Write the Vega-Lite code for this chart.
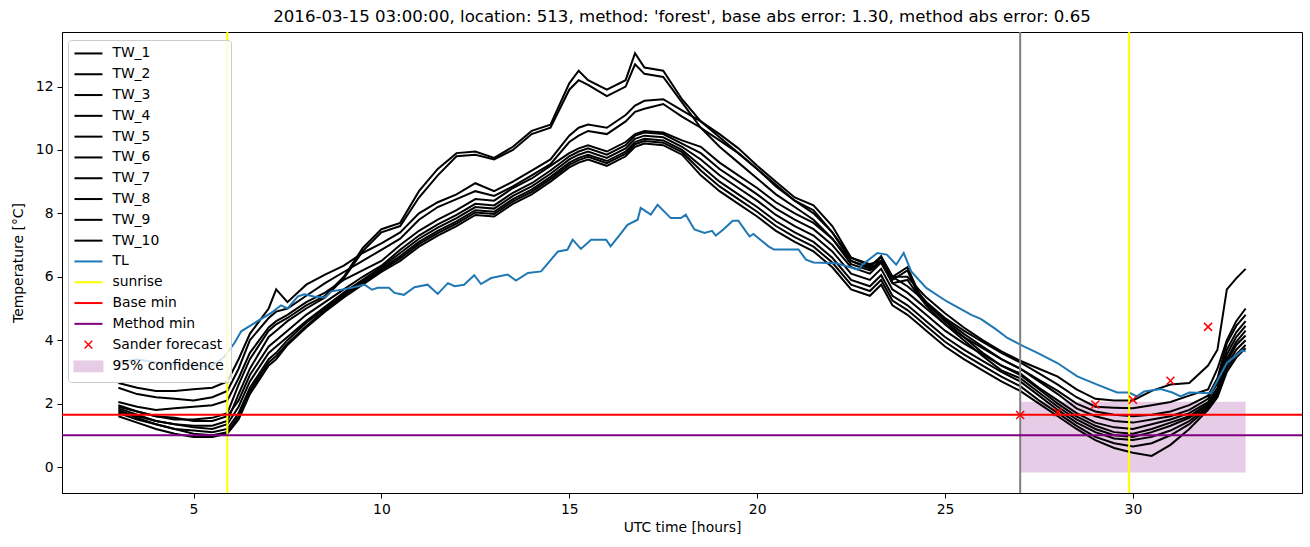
{
  "$schema": "https://vega.github.io/schema/vega-lite/v6.json",
  "width": 1240,
  "height": 461,
  "autosize": {"type": "none"},
  "padding": {"left": 62, "top": 32, "right": 8, "bottom": 54},
  "background": "white",
  "title": {"text": "2016-03-15 03:00:00, location: 513, method: 'forest', base abs error: 1.30, method abs error: 0.65", "fontSize": 16.6, "fontWeight": "normal", "font": "DejaVu Sans", "color": "black", "offset": 5, "anchor": "middle"},
  "config": {
    "font": "DejaVu Sans",
    "view": {"stroke": "black", "strokeWidth": 1},
    "axis": {"grid": false, "domainColor": "black", "tickColor": "black", "labelColor": "black", "titleColor": "black", "labelFontSize": 13.9, "titleFontSize": 13.9, "titleFontWeight": "normal", "tickSize": 5, "labelPadding": 4},
    "axisX": {"titlePadding": 5},
    "axisY": {"titlePadding": 10}
  },
  "datasets": {
    "tw": [
      {"t":3,"TW_1":1.9,"TW_2":1.75,"TW_3":2.65,"TW_4":2.5,"TW_5":2.05,"TW_6":1.95,"TW_7":1.85,"TW_8":1.7,"TW_9":1.6,"TW_10":1.8},
      {"t":3.5,"TW_1":1.75,"TW_2":1.6,"TW_3":2.5,"TW_4":2.3,"TW_5":1.9,"TW_6":1.75,"TW_7":1.65,"TW_8":1.5,"TW_9":1.4,"TW_10":1.55},
      {"t":4,"TW_1":1.6,"TW_2":1.45,"TW_3":2.4,"TW_4":2.2,"TW_5":1.8,"TW_6":1.6,"TW_7":1.45,"TW_8":1.35,"TW_9":1.2,"TW_10":1.35},
      {"t":4.5,"TW_1":1.5,"TW_2":1.35,"TW_3":2.4,"TW_4":2.15,"TW_5":1.85,"TW_6":1.55,"TW_7":1.35,"TW_8":1.2,"TW_9":1.05,"TW_10":1.2},
      {"t":5,"TW_1":1.5,"TW_2":1.3,"TW_3":2.45,"TW_4":2.1,"TW_5":1.9,"TW_6":1.45,"TW_7":1.25,"TW_8":1.15,"TW_9":0.95,"TW_10":1.05},
      {"t":5.5,"TW_1":1.55,"TW_2":1.3,"TW_3":2.5,"TW_4":2.2,"TW_5":1.95,"TW_6":1.45,"TW_7":1.2,"TW_8":1.1,"TW_9":0.95,"TW_10":1.0},
      {"t":5.9,"TW_1":1.7,"TW_2":1.45,"TW_3":2.7,"TW_4":2.4,"TW_5":2.1,"TW_6":1.6,"TW_7":1.35,"TW_8":1.2,"TW_9":1.05,"TW_10":1.1},
      {"t":6.2,"TW_1":2.6,"TW_2":2.3,"TW_3":3.4,"TW_4":3.1,"TW_5":2.8,"TW_6":2.1,"TW_7":1.9,"TW_8":1.7,"TW_9":1.5,"TW_10":1.6},
      {"t":6.5,"TW_1":3.4,"TW_2":3.1,"TW_3":4.2,"TW_4":4.0,"TW_5":3.6,"TW_6":2.9,"TW_7":2.7,"TW_8":2.5,"TW_9":2.3,"TW_10":2.4},
      {"t":7,"TW_1":4.3,"TW_2":4.1,"TW_3":5.0,"TW_4":4.7,"TW_5":4.4,"TW_6":3.8,"TW_7":3.6,"TW_8":3.4,"TW_9":3.2,"TW_10":3.3},
      {"t":7.2,"TW_1":4.5,"TW_2":4.3,"TW_3":5.6,"TW_4":4.9,"TW_5":4.6,"TW_6":4.0,"TW_7":3.8,"TW_8":3.6,"TW_9":3.4,"TW_10":3.5},
      {"t":7.5,"TW_1":4.7,"TW_2":4.6,"TW_3":5.2,"TW_4":5.0,"TW_5":4.8,"TW_6":4.3,"TW_7":4.1,"TW_8":4.0,"TW_9":3.85,"TW_10":3.9},
      {"t":8,"TW_1":5.1,"TW_2":5.0,"TW_3":5.75,"TW_4":5.4,"TW_5":5.2,"TW_6":4.8,"TW_7":4.6,"TW_8":4.55,"TW_9":4.4,"TW_10":4.45},
      {"t":8.5,"TW_1":5.4,"TW_2":5.35,"TW_3":6.07,"TW_4":5.8,"TW_5":5.5,"TW_6":5.2,"TW_7":5.05,"TW_8":5.0,"TW_9":4.9,"TW_10":4.95},
      {"t":9,"TW_1":6.0,"TW_2":5.95,"TW_3":6.35,"TW_4":6.15,"TW_5":5.9,"TW_6":5.6,"TW_7":5.5,"TW_8":5.45,"TW_9":5.35,"TW_10":5.4},
      {"t":9.5,"TW_1":6.9,"TW_2":6.8,"TW_3":6.75,"TW_4":6.5,"TW_5":6.2,"TW_6":6.0,"TW_7":5.9,"TW_8":5.85,"TW_9":5.75,"TW_10":5.8},
      {"t":10,"TW_1":7.5,"TW_2":7.4,"TW_3":7.05,"TW_4":6.85,"TW_5":6.5,"TW_6":6.35,"TW_7":6.3,"TW_8":6.25,"TW_9":6.15,"TW_10":6.2},
      {"t":10.5,"TW_1":7.7,"TW_2":7.6,"TW_3":7.4,"TW_4":7.2,"TW_5":7.0,"TW_6":6.85,"TW_7":6.75,"TW_8":6.65,"TW_9":6.5,"TW_10":6.58},
      {"t":11,"TW_1":8.7,"TW_2":8.5,"TW_3":8.0,"TW_4":7.8,"TW_5":7.45,"TW_6":7.3,"TW_7":7.2,"TW_8":7.1,"TW_9":6.95,"TW_10":7.03},
      {"t":11.5,"TW_1":9.4,"TW_2":9.2,"TW_3":8.35,"TW_4":8.2,"TW_5":7.8,"TW_6":7.65,"TW_7":7.55,"TW_8":7.45,"TW_9":7.3,"TW_10":7.38},
      {"t":12,"TW_1":9.9,"TW_2":9.8,"TW_3":8.6,"TW_4":8.45,"TW_5":8.1,"TW_6":7.95,"TW_7":7.85,"TW_8":7.75,"TW_9":7.6,"TW_10":7.68},
      {"t":12.5,"TW_1":9.95,"TW_2":9.85,"TW_3":8.95,"TW_4":8.7,"TW_5":8.45,"TW_6":8.3,"TW_7":8.2,"TW_8":8.1,"TW_9":7.95,"TW_10":8.03},
      {"t":13,"TW_1":9.75,"TW_2":9.7,"TW_3":8.7,"TW_4":8.55,"TW_5":8.4,"TW_6":8.25,"TW_7":8.15,"TW_8":8.05,"TW_9":7.9,"TW_10":7.98},
      {"t":13.5,"TW_1":10.1,"TW_2":10.0,"TW_3":9.0,"TW_4":8.85,"TW_5":8.8,"TW_6":8.65,"TW_7":8.55,"TW_8":8.45,"TW_9":8.3,"TW_10":8.38},
      {"t":14,"TW_1":10.6,"TW_2":10.5,"TW_3":9.35,"TW_4":9.2,"TW_5":9.1,"TW_6":8.95,"TW_7":8.85,"TW_8":8.75,"TW_9":8.6,"TW_10":8.68},
      {"t":14.5,"TW_1":10.8,"TW_2":10.7,"TW_3":9.7,"TW_4":9.55,"TW_5":9.5,"TW_6":9.35,"TW_7":9.25,"TW_8":9.15,"TW_9":9.0,"TW_10":9.08},
      {"t":15,"TW_1":12.1,"TW_2":11.9,"TW_3":10.45,"TW_4":10.25,"TW_5":9.9,"TW_6":9.8,"TW_7":9.7,"TW_8":9.6,"TW_9":9.45,"TW_10":9.53},
      {"t":15.25,"TW_1":12.5,"TW_2":12.2,"TW_3":10.7,"TW_4":10.45,"TW_5":10.05,"TW_6":9.95,"TW_7":9.85,"TW_8":9.75,"TW_9":9.6,"TW_10":9.68},
      {"t":15.5,"TW_1":12.2,"TW_2":12.05,"TW_3":10.8,"TW_4":10.6,"TW_5":10.15,"TW_6":10.05,"TW_7":9.95,"TW_8":9.85,"TW_9":9.7,"TW_10":9.78},
      {"t":16,"TW_1":11.9,"TW_2":11.7,"TW_3":10.7,"TW_4":10.5,"TW_5":9.95,"TW_6":9.85,"TW_7":9.75,"TW_8":9.65,"TW_9":9.5,"TW_10":9.58},
      {"t":16.5,"TW_1":12.2,"TW_2":12.0,"TW_3":11.1,"TW_4":10.9,"TW_5":10.25,"TW_6":10.15,"TW_7":10.05,"TW_8":9.95,"TW_9":9.8,"TW_10":9.88},
      {"t":16.75,"TW_1":13.05,"TW_2":12.7,"TW_3":11.4,"TW_4":11.2,"TW_5":10.5,"TW_6":10.45,"TW_7":10.35,"TW_8":10.25,"TW_9":10.1,"TW_10":10.18},
      {"t":17,"TW_1":12.6,"TW_2":12.4,"TW_3":11.55,"TW_4":11.3,"TW_5":10.6,"TW_6":10.55,"TW_7":10.45,"TW_8":10.35,"TW_9":10.2,"TW_10":10.28},
      {"t":17.5,"TW_1":12.5,"TW_2":12.3,"TW_3":11.6,"TW_4":11.45,"TW_5":10.55,"TW_6":10.5,"TW_7":10.4,"TW_8":10.3,"TW_9":10.15,"TW_10":10.23},
      {"t":18,"TW_1":11.6,"TW_2":11.5,"TW_3":11.25,"TW_4":11.05,"TW_5":10.3,"TW_6":10.2,"TW_7":10.1,"TW_8":10.0,"TW_9":9.85,"TW_10":9.93},
      {"t":18.5,"TW_1":10.9,"TW_2":10.7,"TW_3":10.9,"TW_4":10.7,"TW_5":10.1,"TW_6":9.9,"TW_7":9.7,"TW_8":9.5,"TW_9":9.2,"TW_10":9.35},
      {"t":19,"TW_1":10.5,"TW_2":10.3,"TW_3":10.4,"TW_4":10.1,"TW_5":9.6,"TW_6":9.4,"TW_7":9.2,"TW_8":9.0,"TW_9":8.7,"TW_10":8.85},
      {"t":19.5,"TW_1":10.05,"TW_2":9.9,"TW_3":9.9,"TW_4":9.6,"TW_5":9.2,"TW_6":9.0,"TW_7":8.8,"TW_8":8.6,"TW_9":8.3,"TW_10":8.45},
      {"t":20,"TW_1":9.5,"TW_2":9.4,"TW_3":9.4,"TW_4":9.1,"TW_5":8.8,"TW_6":8.6,"TW_7":8.4,"TW_8":8.2,"TW_9":7.9,"TW_10":8.05},
      {"t":20.5,"TW_1":9.0,"TW_2":8.9,"TW_3":8.85,"TW_4":8.6,"TW_5":8.35,"TW_6":8.15,"TW_7":7.95,"TW_8":7.75,"TW_9":7.45,"TW_10":7.6},
      {"t":21,"TW_1":8.5,"TW_2":8.4,"TW_3":8.4,"TW_4":8.2,"TW_5":8.0,"TW_6":7.8,"TW_7":7.6,"TW_8":7.4,"TW_9":7.1,"TW_10":7.25},
      {"t":21.5,"TW_1":8.25,"TW_2":8.1,"TW_3":8.0,"TW_4":7.8,"TW_5":7.7,"TW_6":7.5,"TW_7":7.3,"TW_8":7.1,"TW_9":6.8,"TW_10":6.95},
      {"t":22,"TW_1":7.6,"TW_2":7.4,"TW_3":7.4,"TW_4":7.2,"TW_5":7.2,"TW_6":7.0,"TW_7":6.8,"TW_8":6.6,"TW_9":6.3,"TW_10":6.45},
      {"t":22.5,"TW_1":6.6,"TW_2":6.5,"TW_3":6.6,"TW_4":6.4,"TW_5":6.5,"TW_6":6.3,"TW_7":6.1,"TW_8":5.9,"TW_9":5.6,"TW_10":5.75},
      {"t":23,"TW_1":6.35,"TW_2":6.25,"TW_3":6.4,"TW_4":6.2,"TW_5":6.3,"TW_6":6.1,"TW_7":5.9,"TW_8":5.7,"TW_9":5.4,"TW_10":5.55},
      {"t":23.3,"TW_1":6.6,"TW_2":6.5,"TW_3":6.5,"TW_4":6.45,"TW_5":6.65,"TW_6":6.45,"TW_7":6.25,"TW_8":6.05,"TW_9":5.75,"TW_10":5.9},
      {"t":23.6,"TW_1":6.0,"TW_2":5.9,"TW_3":6.0,"TW_4":5.8,"TW_5":6.0,"TW_6":5.8,"TW_7":5.6,"TW_8":5.4,"TW_9":5.1,"TW_10":5.25},
      {"t":24,"TW_1":6.3,"TW_2":6.2,"TW_3":6.0,"TW_4":5.9,"TW_5":5.7,"TW_6":5.5,"TW_7":5.3,"TW_8":5.1,"TW_9":4.8,"TW_10":4.95},
      {"t":24.3,"TW_1":5.5,"TW_2":5.4,"TW_3":5.6,"TW_4":5.4,"TW_5":5.4,"TW_6":5.2,"TW_7":5.0,"TW_8":4.8,"TW_9":4.5,"TW_10":4.65},
      {"t":24.5,"TW_1":5.2,"TW_2":5.1,"TW_3":5.35,"TW_4":5.15,"TW_5":5.2,"TW_6":5.0,"TW_7":4.8,"TW_8":4.6,"TW_9":4.3,"TW_10":4.45},
      {"t":25,"TW_1":4.6,"TW_2":4.5,"TW_3":4.85,"TW_4":4.65,"TW_5":4.7,"TW_6":4.5,"TW_7":4.3,"TW_8":4.1,"TW_9":3.8,"TW_10":3.95},
      {"t":25.5,"TW_1":4.1,"TW_2":4.0,"TW_3":4.4,"TW_4":4.2,"TW_5":4.3,"TW_6":4.1,"TW_7":3.9,"TW_8":3.7,"TW_9":3.4,"TW_10":3.55},
      {"t":26,"TW_1":3.6,"TW_2":3.5,"TW_3":4.0,"TW_4":3.8,"TW_5":3.95,"TW_6":3.75,"TW_7":3.55,"TW_8":3.35,"TW_9":3.05,"TW_10":3.2},
      {"t":26.5,"TW_1":3.2,"TW_2":3.05,"TW_3":3.65,"TW_4":3.4,"TW_5":3.6,"TW_6":3.4,"TW_7":3.2,"TW_8":3.0,"TW_9":2.7,"TW_10":2.85},
      {"t":27,"TW_1":2.95,"TW_2":2.8,"TW_3":3.35,"TW_4":3.1,"TW_5":3.3,"TW_6":3.1,"TW_7":2.9,"TW_8":2.7,"TW_9":2.4,"TW_10":2.55},
      {"t":27.5,"TW_1":2.5,"TW_2":2.35,"TW_3":3.1,"TW_4":2.75,"TW_5":2.95,"TW_6":2.7,"TW_7":2.45,"TW_8":2.25,"TW_9":2.0,"TW_10":2.1},
      {"t":28,"TW_1":2.1,"TW_2":1.9,"TW_3":2.85,"TW_4":2.4,"TW_5":2.6,"TW_6":2.3,"TW_7":2.0,"TW_8":1.8,"TW_9":1.6,"TW_10":1.7},
      {"t":28.5,"TW_1":1.7,"TW_2":1.5,"TW_3":2.45,"TW_4":2.0,"TW_5":2.2,"TW_6":1.85,"TW_7":1.6,"TW_8":1.4,"TW_9":1.2,"TW_10":1.3},
      {"t":29,"TW_1":1.4,"TW_2":1.2,"TW_3":2.15,"TW_4":1.75,"TW_5":1.9,"TW_6":1.6,"TW_7":1.3,"TW_8":1.1,"TW_9":0.85,"TW_10":0.95},
      {"t":29.5,"TW_1":1.25,"TW_2":1.0,"TW_3":2.1,"TW_4":1.65,"TW_5":1.87,"TW_6":1.45,"TW_7":1.1,"TW_8":0.9,"TW_9":0.6,"TW_10":0.75},
      {"t":30,"TW_1":1.2,"TW_2":0.95,"TW_3":2.1,"TW_4":1.6,"TW_5":1.85,"TW_6":1.4,"TW_7":1.05,"TW_8":0.85,"TW_9":0.45,"TW_10":0.65},
      {"t":30.5,"TW_1":1.35,"TW_2":1.1,"TW_3":2.4,"TW_4":1.65,"TW_5":1.95,"TW_6":1.5,"TW_7":1.2,"TW_8":0.95,"TW_9":0.35,"TW_10":0.75},
      {"t":31,"TW_1":1.5,"TW_2":1.3,"TW_3":2.6,"TW_4":1.75,"TW_5":2.05,"TW_6":1.6,"TW_7":1.4,"TW_8":1.15,"TW_9":0.7,"TW_10":1.0},
      {"t":31.5,"TW_1":1.7,"TW_2":1.55,"TW_3":2.65,"TW_4":1.95,"TW_5":2.25,"TW_6":1.8,"TW_7":1.6,"TW_8":1.45,"TW_9":1.2,"TW_10":1.35},
      {"t":32,"TW_1":2.05,"TW_2":1.95,"TW_3":3.2,"TW_4":2.25,"TW_5":2.45,"TW_6":2.15,"TW_7":2.0,"TW_8":1.9,"TW_9":1.8,"TW_10":1.85},
      {"t":32.25,"TW_1":2.5,"TW_2":2.35,"TW_3":3.7,"TW_4":2.8,"TW_5":3.1,"TW_6":2.65,"TW_7":2.4,"TW_8":2.3,"TW_9":2.2,"TW_10":2.25},
      {"t":32.5,"TW_1":3.55,"TW_2":3.3,"TW_3":5.6,"TW_4":3.9,"TW_5":4.0,"TW_6":3.7,"TW_7":3.4,"TW_8":3.2,"TW_9":3.0,"TW_10":3.1},
      {"t":32.75,"TW_1":4.1,"TW_2":3.85,"TW_3":5.95,"TW_4":4.45,"TW_5":4.6,"TW_6":4.25,"TW_7":3.95,"TW_8":3.7,"TW_9":3.45,"TW_10":3.55},
      {"t":33,"TW_1":4.45,"TW_2":4.15,"TW_3":6.25,"TW_4":4.8,"TW_5":5.0,"TW_6":4.6,"TW_7":4.3,"TW_8":4.0,"TW_9":3.75,"TW_10":3.85}
    ],
    "tl": [
      {"t":3,"v":3.3},{"t":3.5,"v":3.4},{"t":4,"v":3.3},{"t":4.5,"v":3.25},{"t":5,"v":3.2},{"t":5.47,"v":3.17},{"t":5.8,"v":3.45},{"t":5.96,"v":3.7},{"t":6.09,"v":3.91},{"t":6.27,"v":4.28},{"t":6.62,"v":4.54},{"t":7.07,"v":4.86},{"t":7.33,"v":5.1},{"t":7.5,"v":5.0},{"t":7.78,"v":5.38},{"t":7.95,"v":5.45},{"t":8.2,"v":5.38},{"t":8.5,"v":5.35},{"t":8.66,"v":5.54},{"t":8.93,"v":5.59},{"t":9.2,"v":5.65},{"t":9.55,"v":5.75},{"t":9.75,"v":5.59},{"t":9.9,"v":5.65},{"t":10.2,"v":5.65},{"t":10.35,"v":5.49},{"t":10.6,"v":5.43},{"t":10.88,"v":5.67},{"t":11.23,"v":5.75},{"t":11.5,"v":5.46},{"t":11.77,"v":5.8},{"t":11.95,"v":5.7},{"t":12.2,"v":5.75},{"t":12.47,"v":6.05},{"t":12.65,"v":5.77},{"t":12.92,"v":5.96},{"t":13.36,"v":6.07},{"t":13.58,"v":5.88},{"t":13.9,"v":6.12},{"t":14.25,"v":6.17},{"t":14.7,"v":6.8},{"t":14.95,"v":6.85},{"t":15.09,"v":7.17},{"t":15.31,"v":6.88},{"t":15.58,"v":7.17},{"t":15.98,"v":7.17},{"t":16.1,"v":6.96},{"t":16.38,"v":7.38},{"t":16.55,"v":7.64},{"t":16.82,"v":7.8},{"t":16.9,"v":8.17},{"t":17.17,"v":7.96},{"t":17.35,"v":8.27},{"t":17.7,"v":7.85},{"t":17.97,"v":7.85},{"t":18.1,"v":7.96},{"t":18.33,"v":7.49},{"t":18.6,"v":7.38},{"t":18.8,"v":7.45},{"t":18.9,"v":7.3},{"t":19.1,"v":7.49},{"t":19.35,"v":7.77},{"t":19.5,"v":7.77},{"t":19.7,"v":7.43},{"t":19.8,"v":7.27},{"t":19.9,"v":7.35},{"t":20.3,"v":6.96},{"t":20.45,"v":6.86},{"t":21.1,"v":6.86},{"t":21.3,"v":6.54},{"t":21.5,"v":6.45},{"t":22.1,"v":6.43},{"t":22.7,"v":6.22},{"t":22.8,"v":6.38},{"t":23.2,"v":6.75},{"t":23.45,"v":6.7},{"t":23.7,"v":6.38},{"t":23.9,"v":6.75},{"t":24.1,"v":6.17},{"t":24.5,"v":5.65},{"t":25.05,"v":5.22},{"t":25.7,"v":4.8},{"t":25.95,"v":4.67},{"t":26.35,"v":4.35},{"t":26.66,"v":4.07},{"t":27.0,"v":3.86},{"t":27.46,"v":3.6},{"t":27.99,"v":3.28},{"t":28.52,"v":2.86},{"t":29.05,"v":2.6},{"t":29.58,"v":2.35},{"t":29.9,"v":2.35},{"t":30.1,"v":2.23},{"t":30.3,"v":2.38},{"t":30.74,"v":2.46},{"t":31.05,"v":2.35},{"t":31.27,"v":2.23},{"t":31.5,"v":2.35},{"t":32.07,"v":2.33},{"t":32.5,"v":3.28},{"t":32.9,"v":3.67},{"t":33,"v":3.65}
    ],
    "sander": [
      {"t":27,"v":1.64},{"t":28,"v":1.73},{"t":29,"v":1.97},{"t":30,"v":2.12},{"t":31,"v":2.72},{"t":32,"v":4.42}
    ]
  },
  "layer": [
    {
      "data": {"values": [{"t": 27, "t2": 33, "v": -0.17, "v2": 2.06}]},
      "mark": {"type": "rect", "opacity": 1},
      "encoding": {
        "x": {"field": "t", "type": "quantitative", "scale": {"domain": [1.5, 34.5], "nice": false, "zero": false}, "axis": {"values": [5, 10, 15, 20, 25, 30]}, "title": "UTC time [hours]"},
        "x2": {"field": "t2"},
        "y": {"field": "v", "type": "quantitative", "scale": {"domain": [-0.82, 13.72], "nice": false, "zero": false}, "axis": {"values": [0, 2, 4, 6, 8, 10, 12]}, "title": "Temperature [°C]"},
        "y2": {"field": "v2"},
        "color": {"datum": "95% confidence", "type": "nominal"}
      }
    },
    {
      "data": {"name": "tw"},
      "transform": [{"fold": ["TW_1","TW_2","TW_3","TW_4","TW_5","TW_6","TW_7","TW_8","TW_9","TW_10"], "as": ["series", "v"]}],
      "mark": {"type": "line", "strokeWidth": 2},
      "encoding": {
        "x": {"field": "t", "type": "quantitative", "title": "UTC time [hours]"},
        "y": {"field": "v", "type": "quantitative", "title": "Temperature [°C]"},
        "detail": {"field": "series", "type": "nominal"},
        "color": {
          "field": "series", "type": "nominal",
          "scale": {
            "domain": ["TW_1","TW_2","TW_3","TW_4","TW_5","TW_6","TW_7","TW_8","TW_9","TW_10","TL","sunrise","Base min","Method min","Sander forecast","95% confidence"],
            "range": ["black","black","black","black","black","black","black","black","black","black","#1f77b4","yellow","red","purple","red","#e6cce6"]
          },
          "legend": {
            "title": null,
            "orient": "none", "legendX": 6, "legendY": 8,
            "fillColor": "rgba(255,255,255,0.8)", "strokeColor": "#cccccc", "cornerRadius": 3, "padding": 6.5,
            "labelFontSize": 13.9, "labelColor": "black", "labelFont": "DejaVu Sans",
            "symbolSize": 196, "symbolStrokeWidth": 2, "rowPadding": 5.8, "labelOffset": 24,
            "symbolType": "M-1,0H3",
            "encode": {
              "symbols": {
                "update": {
                  "shape": {"signal": "datum.value === 'Sander forecast' ? 'M0.45,-0.55L1.55,0.55M0.45,0.55L1.55,-0.55' : (datum.value === '95% confidence' ? 'M-1,-0.7H3V0.7H-1Z' : 'M-1,0H3')"},
                  "stroke": {"signal": "datum.value === '95% confidence' ? 'transparent' : scale('color', datum.value)"},
                  "fill": {"signal": "datum.value === '95% confidence' ? '#e6cce6' : 'transparent'"},
                  "strokeWidth": {"signal": "datum.value === 'Sander forecast' ? 1.5 : 2"},
                  "opacity": {"value": 1}
                }
              }
            }
          }
        }
      }
    },
    {
      "data": {"name": "tl"},
      "mark": {"type": "line", "strokeWidth": 2},
      "encoding": {
        "x": {"field": "t", "type": "quantitative", "title": "UTC time [hours]"},
        "y": {"field": "v", "type": "quantitative", "title": "Temperature [°C]"},
        "color": {"datum": "TL", "type": "nominal"}
      }
    },
    {
      "data": {"values": [{"t": 5.9}, {"t": 29.9}]},
      "mark": {"type": "rule", "strokeWidth": 2},
      "encoding": {
        "x": {"field": "t", "type": "quantitative", "title": "UTC time [hours]"},
        "color": {"datum": "sunrise", "type": "nominal"}
      }
    },
    {
      "data": {"values": [{"t": 27}]},
      "mark": {"type": "rule", "strokeWidth": 2, "color": "#808080"},
      "encoding": {
        "x": {"field": "t", "type": "quantitative", "title": "UTC time [hours]"}
      }
    },
    {
      "data": {"values": [{"v": 1.65}]},
      "mark": {"type": "rule", "strokeWidth": 2},
      "encoding": {
        "y": {"field": "v", "type": "quantitative", "title": "Temperature [°C]"},
        "color": {"datum": "Base min", "type": "nominal"}
      }
    },
    {
      "data": {"values": [{"v": 1.0}]},
      "mark": {"type": "rule", "strokeWidth": 2},
      "encoding": {
        "y": {"field": "v", "type": "quantitative", "title": "Temperature [°C]"},
        "color": {"datum": "Method min", "type": "nominal"}
      }
    },
    {
      "data": {"name": "sander"},
      "mark": {"type": "point", "shape": "M-1,-1L1,1M-1,1L1,-1", "size": 64, "filled": false, "strokeWidth": 1.5, "opacity": 1},
      "encoding": {
        "x": {"field": "t", "type": "quantitative", "title": "UTC time [hours]"},
        "y": {"field": "v", "type": "quantitative", "title": "Temperature [°C]"},
        "color": {"datum": "Sander forecast", "type": "nominal"}
      }
    }
  ]
}
